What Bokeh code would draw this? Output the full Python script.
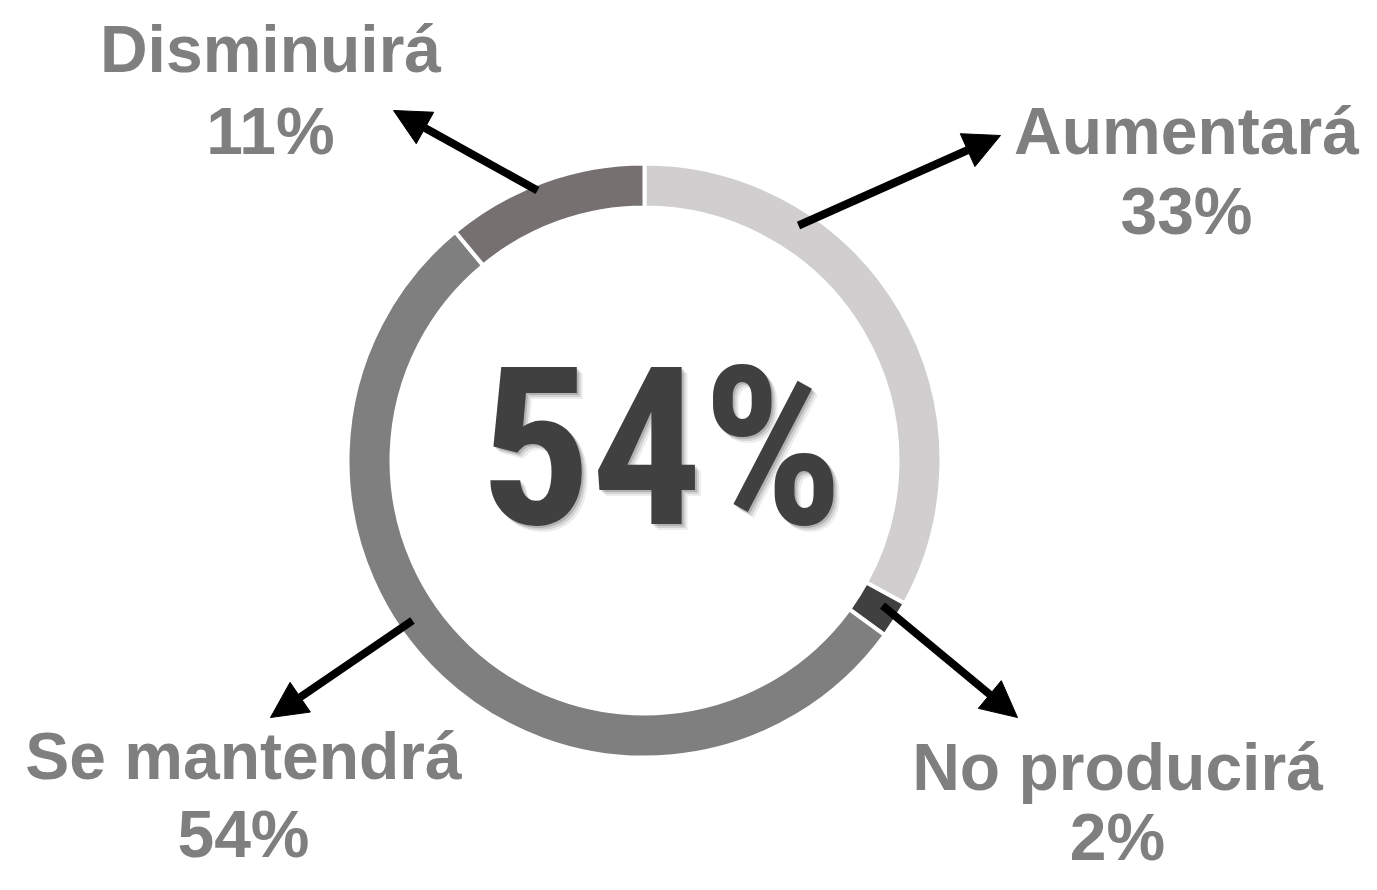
import numpy as np
from bokeh.plotting import figure
from bokeh.models import Range1d, Arrow, NormalHead, ColumnDataSource
from bokeh.core.properties import value
from bokeh.embed import file_html
from bokeh.resources import INLINE

# ---- data ----
categories = ["Aumentará", "No producirá", "Se mantendrá", "Disminuirá"]
values = [33, 2, 54, 11]
colors = ["#d0cecf", "#404040", "#7f7f7f", "#767170"]
pct_labels = ["33%", "2%", "54%", "11%"]
center_label = "54%"

# label placement (screen px: x center, baselines of the two lines)
label_x = [1186, 1117, 243, 270]
label_y1 = [155, 791, 780, 73]
label_y2 = [235, 861, 858, 155]
# arrow placement (screen px)
arrow_from = [(798, 225), (882, 605), (412, 620), (537, 190)]
arrow_to = [(1000, 135), (1017, 717), (270, 717), (393, 110)]

W, H = 1361, 874
p = figure(width=W, height=H, output_backend="svg", toolbar_location=None,
           x_range=Range1d(0, W), y_range=Range1d(-H, 0),
           min_border=0, outline_line_color=None)
p.axis.visible = False
p.grid.visible = False
p.background_fill_color = "white"

cx, cy = 644, -460
frac = np.array(values, dtype=float) / sum(values)
cum = np.concatenate([[0], np.cumsum(frac)])
start = np.pi / 2 - cum[:-1] * 2 * np.pi
end = np.pi / 2 - cum[1:] * 2 * np.pi
src = ColumnDataSource(dict(start=start, end=end, color=colors, cat=categories))
p.annular_wedge(x=cx, y=cy, inner_radius=253, outer_radius=297,
                inner_radius_units="screen", outer_radius_units="screen",
                start_angle="start", end_angle="end", direction="clock",
                fill_color="color", line_color="white", line_width=4, source=src)

# arrows
for (x0, y0), (x1, y1) in zip(arrow_from, arrow_to):
    p.add_layout(Arrow(x_start=x0, y_start=-y0, x_end=x1, y_end=-y1,
                       line_width=8, line_color="black",
                       end=NormalHead(size=36, fill_color="black", line_color="black", line_width=1)))

# baseline correction measured for this renderer (fraction of font size)
K = 0.37

# labels
lab_size = 66
lab_font = value("Liberation Sans")
p.text(x=label_x, y=[-(v - K * lab_size) for v in label_y1], text=categories, text_font=lab_font,
       text_font_style="bold", text_font_size=f"{lab_size}px", text_color="#7f7f7f",
       text_align="center", text_baseline="alphabetic")
p.text(x=label_x, y=[-(v - K * lab_size) for v in label_y2], text=pct_labels, text_font=lab_font,
       text_font_style="bold", text_font_size=f"{lab_size}px", text_color="#7f7f7f",
       text_align="center", text_baseline="alphabetic")

# center big value with soft shadow
big_size = 220
big_font = value("Roboto Condensed")
bx, by = 661, -(530 - K * big_size)
for off, a in [(6, 0.07), (4, 0.11), (2, 0.16)]:
    p.text(x=[bx + off], y=[by - off], text=[center_label], text_font=big_font,
           text_font_style="bold", text_font_size=f"{big_size}px", text_color="#000000",
           text_alpha=a, text_align="center", text_baseline="alphabetic")
p.text(x=[bx], y=[by], text=[center_label], text_font=big_font,
       text_font_style="bold", text_font_size=f"{big_size}px", text_color="#404040",
       text_align="center", text_baseline="alphabetic")

open("out.html", "w").write(file_html(p, INLINE))
